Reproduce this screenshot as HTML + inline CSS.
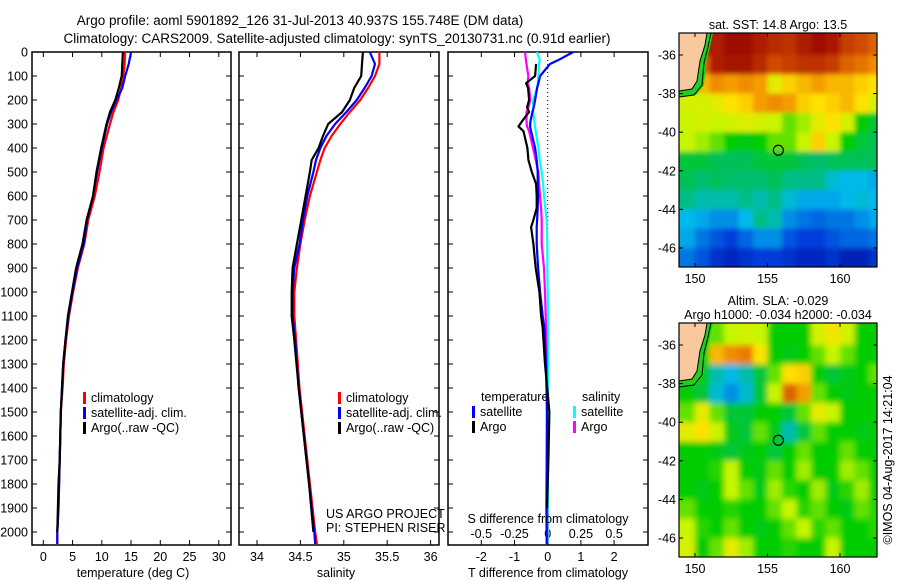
<!DOCTYPE html>
<html><head><meta charset="utf-8"><style>
body{margin:0;background:#fff;}
svg{display:block;font-family:"Liberation Sans",sans-serif;}
text{font-size:12.5px;fill:#000;}
</style></head><body>
<svg id="c" width="900" height="580" viewBox="0 0 900 580" xmlns="http://www.w3.org/2000/svg">
<defs>
<filter id="blurA" x="-5%" y="-5%" width="110%" height="110%"><feGaussianBlur stdDeviation="2.5"/></filter>
<filter id="blurB" x="-5%" y="-5%" width="110%" height="110%"><feGaussianBlur stdDeviation="3"/></filter>
</defs>
<text x="300" y="25" text-anchor="middle" style="font-size:13.5px">Argo profile: aoml 5901892_126 31-Jul-2013 40.937S 155.748E (DM data)</text>
<text x="337" y="43" text-anchor="middle" style="font-size:13.5px">Climatology: CARS2009. Satellite-adjusted climatology: synTS_20130731.nc (0.91d earlier)</text>
<g id="g"></g>
</svg>
<script>
// ---------- data ----------
const depthsT = [0,50,100,150,200,250,300,400,500,600,700,800,900,1000,1100,1200,1300,1400,1500,1600,1700,1800,1900,2000,2050];
const tempClim = [14.0,13.9,13.7,13.3,12.8,12.0,11.4,10.3,9.6,8.8,7.7,7.0,5.9,5.1,4.4,3.9,3.5,3.3,3.0,2.9,2.8,2.7,2.6,2.4,2.4];
const tempSat  = [15.0,14.6,14.0,13.5,12.5,11.6,10.9,10.0,9.2,8.5,7.5,6.9,5.8,5.0,4.3,3.8,3.4,3.2,3.0,2.9,2.8,2.7,2.6,2.4,2.4];
const tempArgo = [13.6,13.5,13.4,12.9,12.3,11.4,10.8,9.9,9.1,8.5,7.4,6.7,5.6,4.9,4.2,3.8,3.4,3.2,3.0,2.9,2.8,2.6,2.5,2.4];
const depthsS = [0,50,100,150,200,250,300,350,400,450,500,600,700,800,900,1000,1100,1200,1400,1600,1800,2000,2050];
const salClim = [35.41,35.41,35.36,35.28,35.19,35.07,34.96,34.86,34.78,34.73,34.69,34.61,34.55,34.50,34.46,34.43,34.43,34.45,34.49,34.55,34.61,34.67,34.69];
const salSat  = [35.30,35.36,35.32,35.24,35.15,35.03,34.90,34.80,34.73,34.68,34.65,34.58,34.53,34.49,34.43,34.41,34.41,34.44,34.48,34.54,34.60,34.66,34.67];
const salArgo = [35.22,35.21,35.20,35.12,35.07,34.98,34.82,34.76,34.71,34.63,34.61,34.56,34.51,34.46,34.41,34.40,34.40,34.43,34.48,34.54,34.60,34.65];
const depthsD = [0,30,50,100,130,150,200,230,250,290,310,330,400,450,500,550,600,650,700,730,800,900,1000,1100,1150,1300,1500,1700,1900,2050];
const dTsat  = [0.77,0.37,0.07,-0.23,-0.28,-0.32,-0.38,-0.42,-0.46,-0.52,-0.53,-0.5,-0.38,-0.33,-0.3,-0.3,-0.29,-0.3,-0.32,-0.33,-0.33,-0.29,-0.23,-0.15,-0.1,-0.05,-0.02,-0.03,-0.04,-0.03];
const dTargo = [null,null,-0.35,-0.38,-0.65,-0.59,-0.56,-0.62,-0.56,-0.78,-0.88,-0.73,-0.61,-0.58,-0.48,-0.35,-0.33,-0.33,-0.43,-0.5,-0.43,-0.36,-0.25,-0.2,-0.15,-0.08,0.05,0.02,-0.02,null];
const dSsat  = [-0.083,-0.06,-0.065,-0.07,-0.075,-0.08,-0.11,-0.11,-0.11,-0.1,-0.096,-0.09,-0.07,-0.06,-0.045,-0.035,-0.028,-0.018,-0.008,-0.006,-0.003,-0.002,0,0.002,0.003,0.003,0.003,0.002,0.002,0.002];
const dSargo = [-0.17,-0.165,-0.16,-0.146,-0.15,-0.14,-0.13,-0.145,-0.16,-0.16,-0.155,-0.14,-0.11,-0.09,-0.07,-0.065,-0.058,-0.05,-0.045,-0.045,-0.045,-0.028,-0.02,-0.015,-0.012,-0.008,-0.006,-0.005,-0.004,-0.004];
const depthTicks = [0,100,200,300,400,500,600,700,800,900,1000,1100,1200,1300,1400,1500,1600,1700,1800,1900,2000];
const tempTicks = [0,5,10,15,20,25,30];
const salTicks = [34,34.5,35,35.5,36];
const salTickLabels = ["34","34.5","35","35.5","36"];
const dTTicks = [-2,-1,0,1,2];
const dSTicks = [-0.5,-0.25,0,0.25,0.5];
const dSTickLabels = ["-0.5","-0.25","0","0.25","0.5"];
const mapLonTicks = [150,155,160];
const mapLatTicks = [-36,-38,-40,-42,-44,-46];
const gridLon0 = 149, gridLat0 = -35; // 1-degree cells
const sstGrid = [
[-1,-1,0.95,0.98,0.98,0.95,0.93,0.92,0.95,0.98,0.96,0.9,0.88,0.85],
[-1,0.85,0.95,0.97,0.97,0.93,0.88,0.9,0.92,0.92,0.9,0.85,0.83,0.8],
[0.7,0.75,0.8,0.78,0.8,0.78,0.65,0.72,0.75,0.78,0.75,0.75,0.72,0.7],
[0.62,0.62,0.65,0.7,0.72,0.78,0.8,0.78,0.72,0.7,0.72,0.75,0.7,0.62],
[0.6,0.62,0.6,0.62,0.64,0.62,0.6,0.55,0.58,0.65,0.7,0.62,0.5,0.45],
[0.6,0.58,0.55,0.5,0.48,0.5,0.55,0.55,0.6,0.72,0.6,0.5,0.45,0.42],
[0.45,0.45,0.42,0.42,0.42,0.45,0.45,0.45,0.42,0.4,0.42,0.42,0.42,0.42],
[0.42,0.4,0.42,0.4,0.4,0.4,0.42,0.38,0.38,0.38,0.32,0.3,0.3,0.28],
[0.38,0.35,0.35,0.35,0.38,0.35,0.38,0.32,0.28,0.28,0.28,0.3,0.32,0.3],
[0.3,0.28,0.25,0.25,0.3,0.38,0.35,0.25,0.22,0.2,0.22,0.22,0.25,0.28],
[0.28,0.22,0.18,0.15,0.2,0.25,0.25,0.18,0.15,0.15,0.18,0.2,0.2,0.22],
[0.22,0.18,0.12,0.1,0.12,0.15,0.15,0.12,0.1,0.1,0.12,0.08,0.08,0.12]];
const slaGrid = [
[-1,-1,0.55,0.6,0.62,0.6,0.5,0.5,0.5,0.62,0.68,0.62,0.5,0.5],
[-1,0.5,0.75,0.8,0.82,0.7,0.5,0.48,0.5,0.55,0.6,0.55,0.5,0.5],
[0.5,0.48,0.35,0.3,0.35,0.45,0.55,0.7,0.72,0.5,0.45,0.48,0.5,0.55],
[0.5,0.45,0.32,0.25,0.32,0.45,0.6,0.85,0.78,0.55,0.5,0.48,0.5,0.5],
[0.55,0.65,0.55,0.45,0.45,0.5,0.5,0.45,0.55,0.65,0.6,0.5,0.5,0.5],
[0.65,0.7,0.6,0.48,0.45,0.55,0.48,0.35,0.45,0.55,0.5,0.5,0.48,0.5],
[0.5,0.5,0.48,0.45,0.48,0.5,0.45,0.5,0.55,0.5,0.5,0.55,0.5,0.5],
[0.5,0.5,0.52,0.6,0.5,0.48,0.55,0.5,0.58,0.5,0.5,0.58,0.55,0.5],
[0.5,0.48,0.5,0.6,0.55,0.48,0.58,0.52,0.5,0.58,0.48,0.52,0.58,0.5],
[0.55,0.5,0.5,0.52,0.5,0.5,0.55,0.6,0.52,0.55,0.5,0.48,0.55,0.52],
[0.6,0.52,0.5,0.55,0.5,0.48,0.5,0.55,0.6,0.52,0.55,0.5,0.5,0.52],
[0.62,0.5,0.55,0.65,0.58,0.5,0.5,0.52,0.5,0.5,0.6,0.5,0.5,0.5]];
const argoLon = 155.748, argoLat = -40.937;

// ---------- drawing ----------
const NS="http://www.w3.org/2000/svg";
const G=document.getElementById('g');
function el(tag,attrs,parent){const e=document.createElementNS(NS,tag);for(const k in attrs)e.setAttribute(k,attrs[k]);(parent||G).appendChild(e);return e;}
function txt(s,x,y,anchor,parent){const t=el('text',{x:x,y:y,'text-anchor':anchor||'middle'},parent);t.textContent=s;return t;}
const Y0=52, PXM=0.24, YB=545;
const yD=d=>Y0+d*PXM;
const xT=t=>43.3+t*5.85;
const xS=s=>257+(s-34)*86.8;
const xDT=v=>547.7+v*33.2;
const xDS=v=>547.7+v*132.8;

function panel(name,x0,x1){
  const g=el('g',{});
  
  
  el('rect',{x:x0,y:Y0,width:x1-x0,height:YB-Y0,fill:'#fff',stroke:'#000','stroke-width':1.5},g);
  depthTicks.forEach(d=>{
    el('line',{x1:x0,x2:x0+5,y1:yD(d),y2:yD(d),stroke:'#000'},g);
    el('line',{x1:x1-5,x2:x1,y1:yD(d),y2:yD(d),stroke:'#000'},g);
  });
  return g;
}
function line(g,xs,ds,xf,color,name){
  const pts=[];
  xs.forEach((v,i)=>{if(v!==null&&v!==undefined)pts.push(xf(v).toFixed(1)+','+yD(ds[i]).toFixed(1));});
  const p=el('polyline',{points:pts.join(' '),fill:'none',stroke:color,'stroke-width':2.2,'stroke-linejoin':'round'},g);
  
  
}
function xticks(g,x0,ticks,labels,xf,top){
  ticks.forEach((t,i)=>{
    const x=xf(t);
    el('line',{x1:x,x2:x,y1:YB-5,y2:YB,stroke:'#000'},g);
    if(top) el('line',{x1:x,x2:x,y1:Y0,y2:Y0+5,stroke:'#000'},g);
    const lt=txt(labels?labels[i]:String(t),x,561,'middle',g);
    
    
  });
}
function legend(g,x,y,color,label){
  el('rect',{x:x,y:y-10,width:3,height:12,fill:color},g);
  const t=txt(label,x+8,y,'start',g);
  
  
}

depthTicks.forEach(d=>{const t=txt(String(d),28,yD(d)+4.5,'end');
  
  });

const p1=panel('temperature-panel',32,231);
xticks(p1,32,tempTicks,null,xT,true);
line(p1,tempClim,depthsT,xT,'#f00','temp-climatology-line');
line(p1,tempSat,depthsT,xT,'#00f','temp-satellite-line');
line(p1,tempArgo,depthsT,xT,'#000','temp-argo-line');
legend(p1,83,402,'#f00','climatology');
legend(p1,83,417,'#00f','satellite-adj. clim.');
legend(p1,83,432,'#000','Argo(..raw -QC)');
const a1=txt('temperature (deg C)',133,577);

const p2=panel('salinity-panel',239,439);
xticks(p2,239,salTicks,salTickLabels,xS,true);
line(p2,salClim,depthsS,xS,'#f00','sal-climatology-line');
line(p2,salSat,depthsS,xS,'#00f','sal-satellite-line');
line(p2,salArgo,depthsS,xS,'#000','sal-argo-line');
legend(p2,338,402,'#f00','climatology');
legend(p2,338,417,'#00f','satellite-adj. clim.');
legend(p2,338,432,'#000','Argo(..raw -QC)');
const n1=txt('US ARGO PROJECT',326,518,'start',p2);
const n2=txt('PI: STEPHEN RISER',326,532,'start',p2);
const a2=txt('salinity',336,577);

const p3=panel('difference-panel',448,648);
dTTicks.forEach(t=>{const x=xDT(t);el('line',{x1:x,x2:x,y1:YB-5,y2:YB,stroke:'#000'},p3);
  const l=txt(String(t),x,561,'middle',p3);});
dSTicks.forEach((t,i)=>{const x=xDS(t);el('line',{x1:x,x2:x,y1:Y0,y2:Y0+5,stroke:'#000'},p3);
  const l=txt(dSTickLabels[i],x,538,'middle',p3);});
el('line',{x1:xDT(0),x2:xDT(0),y1:Y0,y2:YB,stroke:'#000','stroke-dasharray':'1,3'},p3);
line(p3,dSsat,depthsD,xDS,'#0ff','s-diff-satellite-line');
line(p3,dSargo,depthsD,xDS,'#f0f','s-diff-argo-line');
line(p3,dTsat,depthsD,xDT,'#00f','t-diff-satellite-line');
line(p3,dTargo,depthsD,xDT,'#000','t-diff-argo-line');
const lt1=txt('temperature',481,401,'start',p3);
const lt2=txt('salinity',582,401,'start',p3);
legend(p3,472,416,'#00f','satellite');
legend(p3,472,431,'#000','Argo');
legend(p3,573,416,'#0ff','satellite');
legend(p3,573,431,'#f0f','Argo');
const st=txt('S difference from climatology',548,523,'middle',p3);
const a3=txt('T difference from climatology',548,577);

const stops=[[0,[0,0,140]],[0.15,[0,60,220]],[0.3,[0,185,235]],[0.4,[0,190,110]],[0.5,[0,205,0]],[0.6,[200,245,0]],[0.7,[255,225,0]],[0.8,[240,140,0]],[0.9,[200,60,0]],[1,[150,0,0]]];
function cmap(v){for(let i=1;i<stops.length;i++){if(v<=stops[i][0]){const a=stops[i-1],b=stops[i],f=(v-a[0])/(b[0]-a[0]);
  return 'rgb('+a[1].map((c,k)=>Math.round(c+(b[1][k]-c)*f)).join(',')+')';}}return 'rgb(150,0,0)';}
function map(name,top,grid,t1,blur){
  const MX0=679,MX1=877,MY0=top,MY1=top+234;
  const lat36=top+22, pxLat=19.3;
  const xL=l=>695+(l-150)*14.5;
  const yL=l=>lat36+(-36-l)*pxLat;
  const g=el('g',{});
  
  
  const cid='clip'+top;
  const cp=el('clipPath',{id:cid},g);el('rect',{x:MX0,y:MY0,width:MX1-MX0,height:MY1-MY0},cp);
  const cg=el('g',{'clip-path':'url(#'+cid+')'},g);
  el('rect',{x:MX0,y:MY0,width:MX1-MX0,height:MY1-MY0,fill:cmap(0.5)},cg);
  const bg=el('g',{filter:'url(#'+blur+')'},cg);
  grid.forEach((row,r)=>row.forEach((v,c)=>{
    if(v<0)v=row[c+1]>=0?row[c+1]:row[c+2];
    const x=xL(gridLon0+c)-(c===0?12:0),y=yL(gridLat0-r)-(r===0?12:0);
    const cell=el('rect',{x:x.toFixed(1),y:y.toFixed(1),width:(15.1+(c===0||c===row.length-1?12:0)).toFixed(1),height:(19.9+(r===0||r===grid.length-1?12:0)).toFixed(1),fill:cmap(v)},bg);
    
    
  }));
  el('polygon',{points:[[MX0,MY0],[713,MY0],[710,MY0+14],[706,MY0+30],[704,MY0+52],[696,MY0+62],[MX0,MY0+64]].map(p=>p.join(',')).join(' '),fill:'#20d020'},cg);
  const land=el('polygon',{points:[[MX0,MY0],[707,MY0],[705,MY0+12],[700,MY0+28],[697,MY0+48],[692,MY0+56],[MX0,MY0+58]].map(p=>p.join(',')).join(' '),fill:'#fac89e',stroke:'#000','stroke-width':1},cg);
  
  
  el('polyline',{points:[[711,MY0],[708,MY0+14],[704,MY0+30],[702,MY0+52],[694,MY0+62],[MX0,MY0+64]].map(p=>p.join(',')).join(' '),fill:'none',stroke:'#000','stroke-width':1},cg);
  el('rect',{x:MX0,y:MY0,width:MX1-MX0,height:MY1-MY0,fill:'none',stroke:'#000','stroke-width':1.2},g);
  const m=el('circle',{cx:xL(argoLon),cy:yL(argoLat),r:5,fill:'none',stroke:'#000','stroke-width':1.2},g);
  
  
  mapLonTicks.forEach(l=>{const x=xL(l);el('line',{x1:x,x2:x,y1:MY1-4,y2:MY1,stroke:'#000'},g);el('line',{x1:x,x2:x,y1:MY0,y2:MY0+4,stroke:'#000'},g);
    const t=txt(String(l),x,MY1+16,'middle',g);});
  mapLatTicks.forEach(l=>{const y=yL(l);el('line',{x1:MX0,x2:MX0+4,y1:y,y2:y,stroke:'#000'},g);el('line',{x1:MX1-4,x2:MX1,y1:y,y2:y,stroke:'#000'},g);
    const t=txt(String(l),676,y+4.5,'end',g);});
  t1.forEach((s,i)=>{const t=txt(s,778,top-(t1.length-i)*14+10,'middle',g);});
}
map('sst-map',33,sstGrid,['sat. SST: 14.8 Argo: 13.5'],'blurA');
map('sla-map',323,slaGrid,['Altim. SLA: -0.029','Argo h1000: -0.034 h2000: -0.034'],'blurB');
const cr=txt('©IMOS 04-Aug-2017 14:21:04',0,0,'middle');
cr.setAttribute('transform','translate(892,460) rotate(-90)');


</script>
</body></html>
